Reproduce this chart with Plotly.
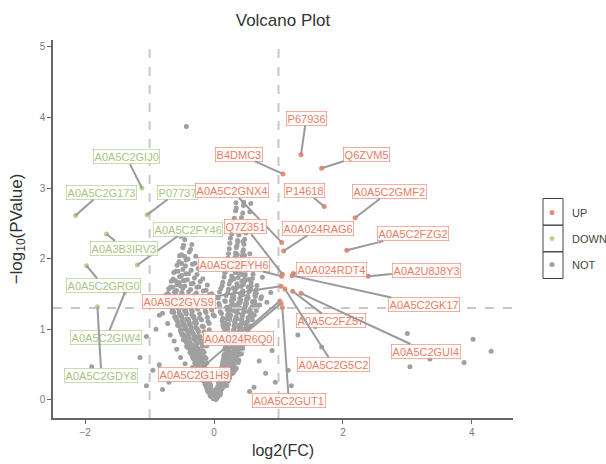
import math
import plotly.graph_objects as go

# ---------------- data ----------------
fc_cut = 1.0
p_cut = 0.05

up_names = ["P67936", "B4DMC3", "Q6ZVM5", "P14618", "A0A5C2GMF2", "A0A5C2GNX4",
            "A0A024RAG6", "A0A5C2FZG2", "Q7Z351", "A0A5C2FYH6", "A0A024RDT4",
            "A0A2U8J8Y3", "A0A5C2GK17", "A0A5C2GVS9", "A0A5C2FZ57", "A0A5C2GUI4",
            "A0A5C2G5C2", "A0A5C2GUT1", "A0A5C2G1H9", "A0A024R6Q0"]
up_fc = [1.35, 1.07, 1.67, 1.71, 2.19, 1.05, 1.08, 2.06, 1.06, 1.05, 1.23,
         2.39, 1.21, 1.04, 1.22, 1.35, 1.10, 1.06, 1.02, 1.04]
up_logp = [3.47, 3.20, 3.28, 2.74, 2.58, 2.23, 2.11, 2.12, 1.78, 1.75, 1.79,
           1.75, 1.76, 1.61, 1.54, 1.51, 1.57, 1.31, 1.40, 1.37]

down_names = ["A0A5C2GIJ0", "A0A5C2G173", "P07737", "A0A5C2FY46", "A0A3B3IRV3",
              "A0A5C2GRG0", "A0A5C2GIW4", "A0A5C2GDY8"]
down_fc = [-1.12, -2.15, -1.04, -1.19, -1.67, -1.98, -1.38, -1.81]
down_logp = [3.00, 2.61, 2.62, 1.91, 2.35, 1.90, 1.53, 1.32]

not_fc = [
    -0.04, -0.01, 0.01, 0.03, 0.05,
    -0.06, -0.03, 0.00, 0.03, 0.06, 0.08,
    -0.085, -0.05, -0.02, 0.04, 0.075, 0.10,
    -0.10, -0.075, -0.04, 0.05, 0.085, 0.12,
    -0.125, -0.09, -0.055, 0.065, 0.10, 0.145,
    -0.14, -0.105, -0.06, 0.07, 0.115, 0.15, 0.195,
    -0.165, -0.12, -0.085, 0.08, 0.125, 0.165, 0.21,
    -0.19, -0.145, -0.095, 0.09, 0.135, 0.185, 0.225, -0.35,
    -0.215, -0.16, -0.115, 0.10, 0.155, 0.195, 0.255, 0.30,
    -0.235, -0.19, -0.135, -0.295, 0.115, 0.16, 0.215, 0.265, 0.325,
    -0.265, -0.205, -0.155, -0.335, 0.12, 0.185, 0.225, 0.295, 0.345,
    -0.285, -0.235, -0.165, -0.115, 0.135, 0.185, 0.255, 0.305, 0.375, -0.45,
    -0.315, -0.245, -0.195, -0.125, 0.145, 0.205, 0.255, 0.325, 0.385,
    -0.335, -0.285, -0.205, -0.145, 0.15, 0.215, 0.275, 0.345, 0.395, -0.52,
    -0.375, -0.295, -0.235, -0.155, 0.165, 0.215, 0.295, 0.345, 0.425,
    -0.385, -0.325, -0.245, -0.175, 0.175, 0.235, 0.305, 0.365, 0.445, -0.58,
    -0.425, -0.345, -0.275, -0.185, -0.115, 0.18, 0.255, 0.315, 0.395, 0.455,
    -0.435, -0.375, -0.285, -0.205, -0.115, 0.195, 0.255, 0.335, 0.395, 0.475, -0.62,
    -0.475, -0.385, -0.315, -0.215, -0.135, 0.205, 0.265, 0.355, 0.415, 0.495,
    -0.485, -0.415, -0.325, -0.245, -0.135, 0.215, 0.275, 0.365, 0.425, 0.515, -0.68,
    -0.515, -0.425, -0.345, -0.245, -0.155, 0.165, 0.225, 0.305, 0.375, 0.455, 0.525,
    -0.535, -0.455, -0.355, -0.275, -0.165, -0.075, 0.145, 0.215, 0.315, 0.385, 0.475, 0.545,
    -0.565, -0.465, -0.385, -0.275, -0.185, -0.075, 0.135, 0.225, 0.325, 0.395, 0.485, 0.565, -0.72,
    -0.575, -0.495, -0.395, -0.305, -0.195, -0.095, 0.125, 0.245, 0.325, 0.425, 0.495, 0.595,
    -0.605, -0.505, -0.425, -0.315, -0.225, -0.105, 0.005, 0.135, 0.245, 0.355, 0.435, 0.525, 0.605,
    -0.625, -0.535, -0.435, -0.345, -0.225, -0.125, -0.015, 0.115, 0.255, 0.365, 0.445, 0.545, 0.625, -0.80,
    -0.655, -0.545, -0.455, -0.345, -0.255, -0.135, -0.035, 0.095, 0.205, 0.305, 0.375, 0.475, 0.555, 0.655,
    -0.665, -0.575, -0.465, -0.375, -0.255, -0.155, -0.045, 0.085, 0.195, 0.305, 0.405, 0.485, 0.585, 0.665,
    -0.705, -0.595, -0.495, -0.385, -0.285, -0.165, -0.055, 0.075, 0.175, 0.295, 0.405, 0.505, 0.595, 0.705, 0.82,
    -0.715, -0.625, -0.505, -0.405, -0.285, -0.185, -0.065, 0.065, 0.165, 0.305, 0.415, 0.525, 0.615, 0.725,
    -0.745, -0.625, -0.525, -0.405, -0.305, -0.185, -0.075, 0.055, 0.185, 0.305, 0.435, 0.525, 0.635, 0.735,
    -0.715, -0.615, -0.495, -0.395, -0.275, -0.165, -0.035, 0.085, 0.215, 0.325, 0.445, 0.545, 0.655, 0.88,
    -0.705, -0.585, -0.485, -0.365, -0.265, -0.125, 0.105, 0.225, 0.345, 0.445, 0.565, 0.655,
    -0.675, -0.575, -0.455, -0.355, -0.235, -0.105, 0.125, 0.235, 0.355, 0.455, 0.575, 0.665,
    -0.665, -0.545, -0.445, -0.325, -0.215, 0.135, 0.255, 0.355, 0.475, 0.575,
    -0.635, -0.535, -0.415, -0.305, -0.175, 0.155, 0.265, 0.375, 0.475, 0.595, 0.75,
    -0.625, -0.505, -0.395, -0.265, 0.165, 0.275, 0.385, 0.485, 0.605,
    -0.595, -0.485, -0.355, -0.245, 0.175, 0.295, 0.395, 0.505,
    -0.575, -0.445, -0.335, 0.195, 0.295, 0.415, 0.515,
    -0.545, -0.435, -0.295, 0.205, 0.315, 0.415, 0.535,
    -0.535, -0.405, -0.285, 0.215, 0.325, 0.435,
    -0.505, -0.385, 0.225, 0.335, 0.445, 0.555,
    -0.485, -0.365, 0.235, 0.345, 0.455,
    -0.475, -0.345, 0.245, 0.355, 0.465,
    -0.455, 0.255, 0.365, 0.475,
    -0.515, 0.275, 0.385, 0.495,
    0.285, 0.395, 0.505,
    0.305, 0.405, 0.515,
    0.315, 0.425,
    0.335, 0.445, 0.555,
    0.345, 0.455,
    0.34, 0.46, 0.57,
    -0.43, -1.05, -1.28, -0.95, -1.15, -1.05, -0.85, -0.80, 0.62, 0.80, 0.90, 1.15,
    1.30, 1.57, 1.67, 3.00, 4.02, 4.30, 3.35, 3.88, 3.04, -1.90, 1.20, 0.95,
    -0.85, -0.70, 0.55, 0.70, -0.90,
    # denser band along both arms
    -0.025, 0.015, 0.045,
    -0.07, -0.035, 0.02, 0.05, 0.09,
    -0.09, -0.06, 0.03, 0.065, 0.105,
    -0.115, -0.08, -0.05, 0.055, 0.09, 0.13,
    -0.13, -0.10, -0.07, 0.075, 0.11, 0.16,
    -0.155, -0.11, -0.075, 0.085, 0.125, 0.175, 0.215,
    -0.175, -0.13, -0.10, 0.095, 0.14, 0.18, 0.24,
    -0.20, -0.15, -0.105, 0.11, 0.145, 0.20, 0.245,
    -0.225, -0.175, -0.125, 0.115, 0.165, 0.21, 0.28,
    -0.25, -0.20, -0.145, 0.125, 0.175, 0.235, 0.285,
    -0.275, -0.215, -0.155, 0.13, 0.19, 0.245, 0.31,
    -0.30, -0.25, -0.18, 0.14, 0.20, 0.265, 0.33,
    -0.325, -0.26, -0.20, 0.155, 0.21, 0.285, 0.355,
    -0.35, -0.28, -0.22, 0.16, 0.225, 0.30, 0.375,
    -0.365, -0.31, -0.24, 0.17, 0.24, 0.315, 0.39,
    -0.40, -0.335, -0.26, -0.18, 0.18, 0.245, 0.33, 0.41,
    -0.42, -0.355, -0.27, -0.19, 0.19, 0.26, 0.345, 0.43,
    -0.455, -0.38, -0.30, -0.21, 0.20, 0.27, 0.36, 0.44,
    -0.47, -0.395, -0.31, -0.23, 0.21, 0.285, 0.37, 0.455,
    -0.50, -0.41, -0.335, -0.24, 0.22, 0.295, 0.385, 0.47,
    -0.52, -0.44, -0.35, -0.26, 0.20, 0.30, 0.40, 0.49,
    -0.55, -0.46, -0.37, -0.285, 0.19, 0.31, 0.41, 0.505,
    -0.57, -0.48, -0.39, -0.29, 0.18, 0.32, 0.42, 0.52,
    -0.59, -0.50, -0.41, -0.31, 0.20, 0.33, 0.43, 0.54,
    -0.61, -0.52, -0.43, -0.33, 0.21, 0.34, 0.44, 0.56,
    -0.64, -0.54, -0.44, -0.34, 0.23, 0.35, 0.46, 0.58,
    -0.66, -0.56, -0.46, -0.36, 0.25, 0.36, 0.47, 0.60,
    -0.68, -0.58, -0.48, 0.26, 0.37, 0.49, 0.61,
    -0.70, -0.60, -0.50, 0.27, 0.38, 0.50, 0.63,
    -0.72, -0.61, -0.51, 0.28, 0.40, 0.51, 0.64,
    -0.70, -0.60, -0.50, 0.29, 0.41, 0.52, 0.64,
    -0.64, -0.52, 0.30, 0.42, 0.53,
    -0.60, -0.48, 0.31, 0.43, 0.54,
    -0.56, -0.44, 0.33, 0.44,
    -0.50, 0.35, 0.46,
    -0.46, 0.36, 0.47,
    0.37, 0.45,
]
not_logp = [
    0.048, 0.018, 0.034, 0.008, 0.041,
    0.058, 0.074, 0.048, 0.081, 0.064, 0.094,
    0.114, 0.088, 0.121, 0.104, 0.134, 0.093,
    0.128, 0.161, 0.144, 0.174, 0.133, 0.158,
    0.201, 0.184, 0.214, 0.173, 0.198, 0.187,
    0.224, 0.254, 0.213, 0.238, 0.227, 0.250, 0.205,
    0.294, 0.253, 0.278, 0.267, 0.290, 0.245, 0.284,
    0.303, 0.328, 0.317, 0.340, 0.295, 0.334, 0.311, 0.321,
    0.378, 0.367, 0.390, 0.345, 0.384, 0.361, 0.371, 0.388,
    0.417, 0.440, 0.395, 0.434, 0.411, 0.421, 0.438, 0.408, 0.424,
    0.490, 0.445, 0.484, 0.461, 0.471, 0.488, 0.458, 0.474, 0.448,
    0.495, 0.534, 0.511, 0.521, 0.538, 0.508, 0.524, 0.498, 0.531, 0.514,
    0.584, 0.561, 0.571, 0.588, 0.558, 0.574, 0.548, 0.581, 0.564,
    0.611, 0.621, 0.638, 0.608, 0.624, 0.598, 0.631, 0.614, 0.644, 0.603,
    0.671, 0.688, 0.658, 0.674, 0.648, 0.681, 0.664, 0.694, 0.653,
    0.738, 0.708, 0.724, 0.698, 0.731, 0.714, 0.744, 0.703, 0.728, 0.717,
    0.758, 0.774, 0.748, 0.781, 0.764, 0.794, 0.753, 0.778, 0.767, 0.790,
    0.824, 0.798, 0.831, 0.814, 0.844, 0.803, 0.828, 0.817, 0.840, 0.795, 0.834,
    0.848, 0.881, 0.864, 0.894, 0.853, 0.878, 0.867, 0.890, 0.845, 0.884,
    0.931, 0.914, 0.944, 0.903, 0.928, 0.917, 0.940, 0.895, 0.934, 0.911, 0.921,
    0.964, 0.994, 0.953, 0.978, 0.967, 0.990, 0.945, 0.984, 0.961, 0.971, 0.988,
    1.044, 1.003, 1.028, 1.017, 1.040, 0.995, 1.034, 1.011, 1.021, 1.038, 1.008, 1.024,
    1.053, 1.078, 1.067, 1.090, 1.045, 1.084, 1.061, 1.071, 1.088, 1.058, 1.074, 1.048, 1.081,
    1.128, 1.117, 1.140, 1.095, 1.134, 1.111, 1.121, 1.138, 1.108, 1.124, 1.098, 1.131,
    1.167, 1.190, 1.145, 1.184, 1.161, 1.171, 1.188, 1.158, 1.174, 1.148, 1.181, 1.164, 1.194,
    1.240, 1.195, 1.234, 1.211, 1.221, 1.238, 1.208, 1.224, 1.198, 1.231, 1.214, 1.244, 1.203, 1.228,
    1.245, 1.284, 1.261, 1.271, 1.288, 1.258, 1.274, 1.248, 1.281, 1.264, 1.294, 1.253, 1.278, 1.267,
    1.334, 1.311, 1.321, 1.338, 1.308, 1.324, 1.298, 1.331, 1.314, 1.344, 1.303, 1.328, 1.317, 1.340,
    1.361, 1.371, 1.388, 1.358, 1.374, 1.348, 1.381, 1.364, 1.394, 1.353, 1.378, 1.367, 1.390, 1.345, 1.384,
    1.421, 1.438, 1.408, 1.424, 1.398, 1.431, 1.414, 1.444, 1.403, 1.428, 1.417, 1.440, 1.395, 1.434,
    1.488, 1.458, 1.474, 1.448, 1.481, 1.464, 1.494, 1.453, 1.478, 1.467, 1.490, 1.445, 1.484, 1.461,
    1.508, 1.524, 1.498, 1.531, 1.514, 1.544, 1.503, 1.528, 1.517, 1.540, 1.495, 1.534, 1.511, 1.521,
    1.574, 1.548, 1.581, 1.564, 1.594, 1.553, 1.578, 1.567, 1.590, 1.545, 1.584, 1.561,
    1.598, 1.631, 1.614, 1.644, 1.603, 1.628, 1.617, 1.640, 1.595, 1.634, 1.611, 1.621,
    1.681, 1.664, 1.694, 1.653, 1.678, 1.667, 1.690, 1.645, 1.684, 1.661,
    1.714, 1.744, 1.703, 1.728, 1.717, 1.740, 1.695, 1.734, 1.711, 1.721, 1.738,
    1.804, 1.763, 1.788, 1.777, 1.800, 1.755, 1.794, 1.771, 1.781,
    1.823, 1.848, 1.837, 1.860, 1.815, 1.854, 1.831, 1.841,
    1.908, 1.897, 1.920, 1.875, 1.914, 1.891, 1.901,
    1.957, 1.980, 1.935, 1.974, 1.951, 1.961, 1.978,
    2.040, 1.995, 2.034, 2.011, 2.021, 2.038,
    2.055, 2.094, 2.071, 2.081, 2.098, 2.068,
    2.154, 2.131, 2.141, 2.158, 2.128,
    2.191, 2.201, 2.218, 2.188, 2.204,
    2.271, 2.288, 2.258, 2.274,
    2.318, 2.351, 2.334, 2.364,
    2.403, 2.428, 2.417,
    2.520, 2.475, 2.514,
    2.571, 2.581,
    2.678, 2.648, 2.664,
    2.718, 2.751,
    2.79, 2.80, 2.78,
    3.87, 0.20, 0.32, 0.42, 0.60, 0.90, 1.20, 0.15, 0.18, 0.38, 0.70, 0.42,
    0.92, 1.04, 0.75, 0.94, 0.86, 0.69, 0.58, 0.53, 0.47, 0.47, 0.20, 0.25,
    0.50, 0.25, 0.12, 0.55, 1.00,
    # denser band along both arms
    0.042, 0.065, 0.031,
    0.096, 0.111, 0.077, 0.093, 0.066,
    0.142, 0.126, 0.147, 0.114, 0.139,
    0.170, 0.159, 0.162, 0.185, 0.151, 0.176,
    0.231, 0.197, 0.213, 0.186, 0.222, 0.206,
    0.267, 0.234, 0.259, 0.250, 0.239, 0.242, 0.265,
    0.281, 0.306, 0.321, 0.287, 0.303, 0.276, 0.312,
    0.346, 0.367, 0.334, 0.359, 0.350, 0.339, 0.342,
    0.415, 0.381, 0.406, 0.421, 0.387, 0.403, 0.376,
    0.462, 0.446, 0.467, 0.434, 0.459, 0.450, 0.439,
    0.492, 0.515, 0.481, 0.506, 0.521, 0.487, 0.503,
    0.526, 0.562, 0.546, 0.567, 0.534, 0.559, 0.550,
    0.589, 0.592, 0.615, 0.581, 0.606, 0.621, 0.587,
    0.653, 0.626, 0.662, 0.646, 0.667, 0.634, 0.659,
    0.700, 0.689, 0.692, 0.715, 0.681, 0.706, 0.721,
    0.737, 0.753, 0.726, 0.762, 0.746, 0.767, 0.734, 0.759,
    0.800, 0.789, 0.792, 0.815, 0.781, 0.806, 0.821, 0.787,
    0.853, 0.826, 0.862, 0.846, 0.867, 0.834, 0.859, 0.850,
    0.889, 0.892, 0.915, 0.881, 0.906, 0.921, 0.887, 0.903,
    0.926, 0.962, 0.946, 0.967, 0.934, 0.959, 0.950, 0.939,
    0.992, 1.015, 0.981, 1.006, 1.021, 0.987, 1.003, 0.976,
    1.062, 1.046, 1.067, 1.034, 1.059, 1.050, 1.039, 1.042,
    1.115, 1.081, 1.106, 1.121, 1.087, 1.103, 1.076, 1.112,
    1.146, 1.167, 1.134, 1.159, 1.150, 1.139, 1.142, 1.165,
    1.181, 1.206, 1.221, 1.187, 1.203, 1.176, 1.212, 1.196,
    1.267, 1.234, 1.259, 1.250, 1.239, 1.242, 1.265, 1.231,
    1.306, 1.321, 1.287, 1.303, 1.276, 1.312, 1.296, 1.317,
    1.334, 1.359, 1.350, 1.339, 1.342, 1.365, 1.331,
    1.406, 1.421, 1.387, 1.403, 1.376, 1.412, 1.396,
    1.467, 1.434, 1.459, 1.450, 1.439, 1.442, 1.465,
    1.481, 1.506, 1.521, 1.487, 1.503, 1.476, 1.512,
    1.596, 1.617, 1.584, 1.609, 1.600,
    1.689, 1.692, 1.715, 1.681, 1.706,
    1.821, 1.787, 1.803, 1.776,
    1.932, 1.916, 1.937,
    2.034, 2.059, 2.050,
    2.239, 2.242,
]
assert len(not_fc) == len(not_logp), (len(not_fc), len(not_logp))

# label positions from the repel layout (data units)
up_label_x = [1.43, 0.385, 2.36, 1.41, 2.72, 0.28, 1.62, 3.08, 0.49, 0.31, 1.82,
              3.29, 3.26, -0.54, 1.82, 3.29, 1.85, 1.16, -0.31, 0.385]
up_label_y = [3.99, 3.48, 3.48, 2.96, 2.95, 2.96, 2.43, 2.35, 2.45, 1.92, 1.84,
              1.83, 1.35, 1.39, 1.12, 0.69, 0.50, -0.01, 0.36, 0.87]
down_label_x = [-1.36, -1.745, -0.575, -0.41, -1.40, -1.72, -1.67, -1.75]
down_label_y = [3.44, 2.94, 2.94, 2.42, 2.15, 1.62, 0.88, 0.35]

# ---------------- style ----------------
UP_C = "#EF8A6F"
DOWN_C = "#B9D38E"
NOT_C = "#A0A0A0"
UP_T = "#EC7C62"
DOWN_T = "#A9C47F"
FONT = "Liberation Sans, Arial, sans-serif"

W, H = 606, 464
ML, MR, MT, MB = 53, 93, 40, 46
PW, PH = W - ML - MR, H - MT - MB


def px_x(p):
    return (p - ML) / PW


def px_y(p):
    return (H - MB - p) / PH


fig = go.Figure()
fig.add_trace(go.Scatter(x=not_fc, y=not_logp, mode="markers", name="NOT",
                         legendgroup="c", legendrank=3,
                         marker=dict(color=NOT_C, size=5)))
fig.add_trace(go.Scatter(x=down_fc, y=down_logp, mode="markers", name="DOWN",
                         legendgroup="b", legendrank=2,
                         marker=dict(color=DOWN_C, size=5)))
fig.add_trace(go.Scatter(x=up_fc, y=up_logp, mode="markers", name="UP",
                         legendgroup="a", legendrank=1,
                         marker=dict(color=UP_C, size=5)))

hy = -math.log10(p_cut)
line_style = dict(color="#C8C8C8", width=2, dash="dash")
for xv in (-fc_cut, fc_cut):
    fig.add_shape(type="line", xref="x", yref="paper", x0=xv, x1=xv, y0=0, y1=1,
                  line=line_style, layer="above")
fig.add_shape(type="line", xref="paper", yref="y", x0=0, x1=1, y0=hy, y1=hy,
              line=line_style, layer="above")

# legend key boxes (ggplot style)
kx0, kx1 = px_x(543), px_x(563)
for top, bot in ((198.5, 225.2), (225.2, 251.8), (251.8, 278.5)):
    fig.add_shape(type="rect", xref="paper", yref="paper", x0=kx0, x1=kx1,
                  y0=px_y(bot), y1=px_y(top), line=dict(color="#444444", width=1))


def add_labels(names, xs, ys, lxs, lys, tcolor):
    for n, x, y, lx, ly in zip(names, xs, ys, lxs, lys):
        fig.add_annotation(x=x, y=y, ax=lx, ay=ly, axref="x", ayref="y",
                           text=n, showarrow=True, arrowhead=0, arrowwidth=2,
                           arrowcolor="#9A9A9A", standoff=0, startstandoff=0,
                           font=dict(family=FONT, size=11, color=tcolor),
                           bgcolor="rgba(255,255,255,0.85)", bordercolor=tcolor,
                           borderwidth=0.6, borderpad=1)


add_labels(down_names, down_fc, down_logp, down_label_x, down_label_y, DOWN_T)
add_labels(up_names, up_fc, up_logp, up_label_x, up_label_y, UP_T)

fig.update_layout(
    width=W, height=H,
    margin=dict(l=ML, r=MR, t=MT, b=MB),
    paper_bgcolor="white", plot_bgcolor="white",
    font=dict(family=FONT, color="#555555"),
    title=dict(text="Volcano Plot", x=0.467, xanchor="center", y=0.957,
               yanchor="middle", font=dict(size=17, color="#333333")),
    legend=dict(xref="container", yref="container",
                x=532 / W, y=1 - 198 / H, xanchor="left", yanchor="top",
                traceorder="grouped", tracegroupgap=7,
                font=dict(size=11, color="#444444"), bgcolor="rgba(0,0,0,0)"),
    xaxis=dict(range=[-2.50, 4.64], showgrid=False, zeroline=False,
               automargin=False,
               showline=True, linecolor="#666666", linewidth=1.5,
               ticks="outside", ticklen=4, tickcolor="#666666",
               tickvals=[-2, 0, 2, 4],
               tickfont=dict(size=10, color="#7A7A7A"),
               title=dict(text="log2(FC)", standoff=8,
                          font=dict(size=16, color="#333333"))),
    yaxis=dict(range=[-0.255, 5.095], showgrid=False, zeroline=False,
               automargin=False,
               showline=True, linecolor="#666666", linewidth=1.5,
               ticks="outside", ticklen=4, tickcolor="#666666",
               tickvals=[0, 1, 2, 3, 4, 5],
               tickfont=dict(size=10, color="#7A7A7A"),
               title=dict(text="\u2212log<sub>10</sub>(PValue)", standoff=13,
                          font=dict(size=17, color="#333333"))),
)

fig.write_html("out.html", config={"displayModeBar": False},
               post_script="document.body.style.margin='0';")
